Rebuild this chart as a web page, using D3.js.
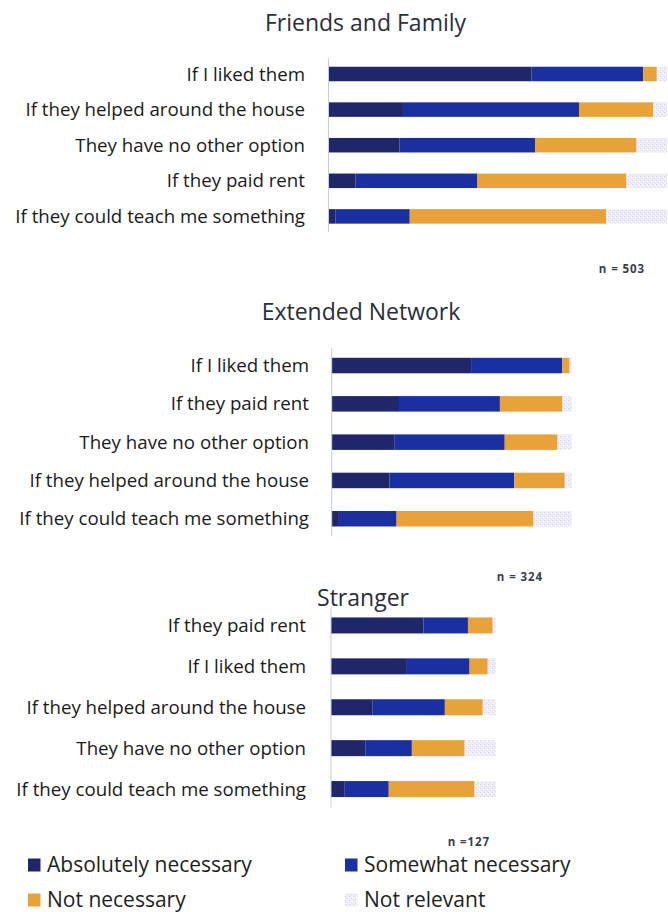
<!DOCTYPE html>
<html>
<head>
<meta charset="utf-8">
<script src="https://cdn.jsdelivr.net/npm/d3@7"></script>
<style>
  html, body { margin: 0; padding: 0; background: #ffffff; }
  svg { display: block; }
  text { font-family: "Open Sans", Lato, sans-serif; }
</style>
</head>
<body>
<svg id="chart" width="668" height="912"></svg>
<script>
// Response levels, in stacking order
const levels = ["Absolutely necessary", "Somewhat necessary", "Not necessary", "Not relevant"];
const levelColors = ["#1f276a", "#1b30a0", "#e8a23a", "url(#speckle)"];

// Friends and Family (n = 503), percent of respondents
const friendsCats = ["If I liked them", "If they helped around the house", "They have no other option", "If they paid rent", "If they could teach me something"];
const friendsAbs  = [60, 22, 21, 8, 2];
const friendsSome = [33, 52, 40, 36, 22];
const friendsNot  = [4, 22, 30, 44, 58];
const friendsNR   = [3, 4, 9, 12, 18];

// Extended Network (n = 324)
const extendedCats = ["If I liked them", "If they paid rent", "They have no other option", "If they helped around the house", "If they could teach me something"];
const extendedAbs  = [58, 28, 26, 24, 3];
const extendedSome = [38, 42, 46, 52, 24];
const extendedNot  = [3, 26, 22, 21, 57];
const extendedNR   = [1, 4, 6, 3, 16];

// Stranger (n = 127)
const strangerCats = ["If they paid rent", "If I liked them", "If they helped around the house", "They have no other option", "If they could teach me something"];
const strangerAbs  = [56, 46, 25, 21, 8];
const strangerSome = [27, 38, 44, 28, 27];
const strangerNot  = [15, 11, 23, 32, 52];
const strangerNR   = [2, 5, 8, 19, 13];

const panelTitles = ["Friends and Family", "Extended Network", "Stranger"];
const sampleLabels = ["n = 503", "n = 324", "n =127"];

const svg = d3.select("#chart");

// speckled light fill for "Not relevant"
const pat = svg.append("defs").append("pattern")
  .attr("id", "speckle")
  .attr("patternUnits", "userSpaceOnUse")
  .attr("width", 4).attr("height", 4);
pat.append("rect").attr("width", 4).attr("height", 4).attr("fill", "#eeedf8");
pat.append("rect").attr("x", 0).attr("y", 0).attr("width", 1).attr("height", 1).attr("fill", "#d3d0ec");
pat.append("rect").attr("x", 2).attr("y", 2).attr("width", 1).attr("height", 1).attr("fill", "#dcdaf0");
pat.append("rect").attr("x", 3).attr("y", 1).attr("width", 1).attr("height", 1).attr("fill", "#ffffff");

function buildRows(cats, a, s, n, r) {
  return cats.map((c, i) => ({ cat: c, values: [a[i], s[i], n[i], r[i]] }));
}

// Layout for each panel (pixel frame only)
const panels = [
  { title: panelTitles[0], rows: buildRows(friendsCats, friendsAbs, friendsSome, friendsNot, friendsNR),
    x0: 328.5, x1: 667, y0: 56.2, y1: 234.2, barH: 14.5, labelX: 305,
    titleX: 365.5, titleY: 31, nX: 645, nY: 273 },
  { title: panelTitles[1], rows: buildRows(extendedCats, extendedAbs, extendedSome, extendedNot, extendedNR),
    x0: 331.7, x1: 572, y0: 346.4, y1: 537.9, barH: 15.5, labelX: 309,
    titleX: 361, titleY: 320, nX: 543, nY: 581 },
  { title: panelTitles[2], rows: buildRows(strangerCats, strangerAbs, strangerSome, strangerNot, strangerNR),
    x0: 331, x1: 496, y0: 605, y1: 809.5, barH: 16, labelX: 306,
    titleX: 363, titleY: 606, nX: 490, nY: 846 }
];

panels.forEach((p, pi) => {
  const g = svg.append("g");
  const x = d3.scaleLinear().domain([0, 100]).range([p.x0, p.x1]);
  const y = d3.scaleBand().domain(p.rows.map(d => d.cat)).range([p.y0, p.y1]).paddingInner(0).paddingOuter(0);

  // stacked series
  const stackInput = p.rows.map(d => {
    const o = { cat: d.cat };
    levels.forEach((l, k) => { o[l] = d.values[k]; });
    return o;
  });
  const series = d3.stack().keys(levels)(stackInput);

  g.selectAll("g.series")
    .data(series)
    .join("g")
    .attr("class", "series")
    .attr("fill", (d, k) => levelColors[k])
    .selectAll("rect")
    .data(d => d)
    .join("rect")
    .attr("x", d => x(d[0]))
    .attr("width", d => Math.max(0, x(d[1]) - x(d[0])))
    .attr("y", d => y(d.data.cat) + y.bandwidth() / 2 - p.barH / 2)
    .attr("height", p.barH);

  // category axis line
  g.append("line")
    .attr("x1", p.x0).attr("x2", p.x0)
    .attr("y1", p.y0 + 2).attr("y2", p.y1 - 2)
    .attr("stroke", "#c3cbea").attr("stroke-width", 1);

  // category labels
  g.selectAll("text.cat")
    .data(p.rows)
    .join("text")
    .attr("class", "cat")
    .attr("x", p.labelX)
    .attr("y", d => y(d.cat) + y.bandwidth() / 2)
    .attr("dy", "0.35em")
    .attr("text-anchor", "end")
    .attr("font-size", 18.7)
    .attr("fill", "#1a1a1a")
    .text(d => d.cat);

  // title
  g.append("text")
    .attr("x", p.titleX).attr("y", p.titleY)
    .attr("text-anchor", "middle")
    .attr("font-size", 23)
    .attr("fill", "#2b2d3a")
    .text(p.title);

  // sample size
  g.append("text")
    .attr("x", p.nX).attr("y", p.nY)
    .attr("text-anchor", "end")
    .attr("font-size", 11.5)
    .attr("font-weight", 700)
    .attr("letter-spacing", 0.9)
    .attr("fill", "#3a3d4a")
    .text(sampleLabels[pi]);
});

// legend, two columns
const legendCols = [28, 345];
const legendRows = [865, 900];
const legend = svg.append("g")
  .selectAll("g")
  .data(levels)
  .join("g")
  .attr("transform", (d, i) => `translate(${legendCols[i % 2]},${legendRows[Math.floor(i / 2)]})`);

legend.append("rect")
  .attr("x", 0).attr("y", -6.5)
  .attr("width", 12.5).attr("height", 13)
  .attr("fill", (d, i) => levelColors[i]);

legend.append("text")
  .attr("x", 19).attr("y", 0)
  .attr("dy", "0.35em")
  .attr("font-size", 21)
  .attr("fill", "#1e1e1e")
  .text(d => d);
</script>
</body>
</html>
